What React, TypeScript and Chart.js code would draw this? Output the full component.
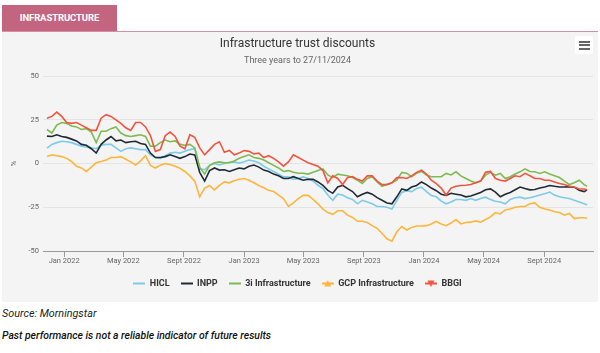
import React, { useEffect, useRef } from 'react';
import { Chart, registerables } from 'chart.js';

Chart.register(...registerables);

// Days since 27/11/2021
const days = [
  0, 10, 20, 30, 40, 50, 60, 70, 80, 90,
  100, 110, 120, 130, 140, 150, 160, 170, 180, 190,
  200, 210, 220, 230, 240, 250, 260, 270, 280, 290,
  300, 310, 320, 330, 340, 350, 360, 370, 380, 390,
  400, 410, 420, 430, 440, 450, 460, 470, 480, 490,
  500, 510, 520, 530, 540, 550, 560, 570, 580, 590,
  600, 610, 620, 630, 640, 650, 660, 670, 680, 690,
  700, 710, 720, 730, 740, 750, 760, 770, 780, 790,
  800, 810, 820, 830, 840, 850, 860, 870, 880, 890,
  900, 910, 920, 930, 940, 950, 960, 970, 980, 990,
  1000, 1010, 1020, 1030, 1040, 1050, 1060, 1070, 1080, 1090,
  1096,
];

const tickDays = [35, 155, 278, 400, 520, 643, 765, 886, 1009];
const tickLabels = ['Jan 2022', 'May 2022', 'Sept 2022', 'Jan 2023', 'May 2023', 'Sept 2023', 'Jan 2024', 'May 2024', 'Sept 2024'];
const yTicks = [-50, -25, 0, 25, 50];

const seriesNames = ['HICL', 'INPP', '3i Infrastructure', 'GCP Infrastructure', 'BBGI'];

const hicl = [
  8.9, 11, 12, 12.8, 12.5, 12, 11, 10, 9.5, 9,
  8.5, 10.5, 11, 11, 9, 7, 8.5, 9, 8.5, 8,
  8, 5, 3.5, 3, 4.5, 6, 6.5, 6, 7, 8,
  8.5, -3, -3.5, -1, 0, -0.8, 0, 0.8, 1, 0.3,
  1, 2, 1.5, 0.5, -1.5, -3, -4.5, -6, -7.6, -7.6,
  -9, -8.5, -7.6, -8.5, -10, -12.4, -14.3, -18, -21, -17.5,
  -18, -19.5, -20.5, -23, -21, -22, -23, -24.5, -24.5, -25,
  -26, -21, -16.5, -15.5, -16, -14.3, -13.5, -16, -18.2, -19,
  -21.5, -23, -22, -20.5, -20.5, -21, -20, -21, -20, -19.2,
  -20.5, -21.5, -22, -23, -20.5, -19.5, -19.2, -20, -19.5, -18.8,
  -18, -17.2, -16.3, -18, -19, -19.5, -20, -21, -22, -23,
  -23.6,
];

const inpp = [
  15.7, 15.5, 16.5, 15.5, 15, 14, 13, 11, 10.5, 8.5,
  6, 11, 13.5, 15.5, 13, 13.5, 12, 12.5, 12.8, 11.5,
  11, 6, 3.5, 3.5, 4, 5, 4, 3, 4, 5.5,
  5, -5, -10, -4, -2.5, -3.7, -3.5, -4.5, -3.5, -2.5,
  -3, -1.5, -0.8, -2, -3.7, -4.5, -6, -7, -8.5, -8.5,
  -7.5, -8.5, -9.5, -9, -9, -10.5, -12.5, -15.3, -17, -13.4,
  -12.4, -14.3, -16, -19, -17.5, -16.5, -17.5, -19.5, -21, -22.5,
  -23, -19, -14.5, -15.3, -13.4, -12.5, -10.5, -12, -14, -15.5,
  -17.5, -18.2, -17, -17.5, -18, -19, -18.5, -17.5, -16.5, -15,
  -14.5, -16.3, -19, -17.5, -16.5, -15, -13.4, -14.3, -15, -14.8,
  -14, -13.4, -12.5, -13, -13.4, -13.4, -13.2, -13.5, -15.3, -16,
  -15,
];

const threeI = [
  19.5, 17.5, 22, 23.5, 23, 21.5, 21, 19.5, 20, 18,
  12, 18.5, 18.5, 20, 21, 17.5, 16, 15.5, 16, 16.5,
  15.5, 10, 10, 12, 13.5, 12.5, 13, 11, 10.5, 11,
  9, -2, -6, -1, 0.5, 1, 0.5, 0.5, 1.5, 3,
  4, 5, 3.5, 3, 2, 0.5, -1, -2.5, -4.5, -4,
  -5, -5.5, -5.5, -6, -5, -4, -3, -6.5, -8, -6,
  -6.5, -7, -8, -9.5, -11.4, -8.5, -7.5, -10.5, -13, -12,
  -11, -9.5, -5, -5.5, -7.5, -5.5, -4.5, -6.5, -7.5, -7.5,
  -7.5, -5.6, -6.5, -4.7, -7, -8.5, -10, -11, -10, -6.6,
  -5, -6.6, -5.6, -8.5, -7.5, -6, -4.7, -3, -4.5, -4.7,
  -5.6, -4.7, -6, -7, -8, -10, -12, -11, -9.5, -12,
  -13,
];

const gcp = [
  4, 5, 4.5, 4, 3, 1.2, -1.5, -2.5, -4.5, -2,
  0.5, 1.2, 2, 3.5, 3.5, 4, 2.5, 1, -0.8, 1.5,
  4.5, -1, -2.5, -1, 0, -0.5, -1.5, -2.7, -4.5, -7,
  -10, -19, -14, -12.5, -15, -12.5, -10.5, -11, -9.8, -9,
  -8.5, -9.5, -11, -12.5, -13.8, -15.3, -16, -18, -20, -24.5,
  -22.5, -20, -18.2, -18.2, -20.5, -23, -26, -28, -29, -27,
  -27, -29.5, -30.8, -33, -33, -33.7, -35.5, -37, -40, -43,
  -44.4, -39, -36, -38, -36.5, -35.7, -35.7, -35.5, -34.5, -33,
  -34.5, -35.5, -34, -32, -34.5, -33.7, -33.5, -32.8, -33.5, -32,
  -30.5, -28, -28.8, -26.5, -26, -25, -24.5, -24.5, -23, -22.5,
  -25, -26, -26.5, -27.5, -28, -29.5, -28.5, -31.5, -31, -31,
  -31.3,
];

const bbgi = [
  26, 27, 29.5, 27, 23.5, 23, 23.5, 22, 20.5, 19,
  19, 26, 28, 27, 25, 23, 20.5, 19, 23.5, 23.5,
  21, 16, 7, 8, 16, 18, 15.5, 10, 8.5, 16.5,
  15, 9, 5, 8, 11, 12.5, 6.5, 7.5, 5, 6,
  7.5, 7, 5.5, 6, 3.5, 4.5, 3, 1, -1.5, 1,
  5, 3.5, 2, 0.5, -0.5, -1.5, -4, -11, -7, -8.5,
  -12, -8, -7.5, -9, -10, -7, -7, -10, -12, -12,
  -11, -8, -8, -8.5, -7, -5, -3.7, -6, -9.5, -11.5,
  -14, -18, -14, -13, -12.5, -12.4, -12, -11, -10, -5,
  -4.5, -8.5, -9.5, -10, -8.5, -7, -7.5, -5.6, -7, -8.5,
  -8.5, -9.5, -9.5, -10.5, -11.4, -12, -13, -13.4, -14.5, -14.5,
  -15,
];

const seriesValues = [hicl, inpp, threeI, gcp, bbgi];
const seriesColors = ['#7ccbe9', '#1e2b35', '#7dbb52', '#fdb53a', '#f1553f'];
const seriesMarkers = ['none', 'none', 'none', 'up', 'down'];

function makeLegendIcon(color: string, marker: string): HTMLCanvasElement {
  const c = document.createElement('canvas');
  c.width = 12;
  c.height = 10;
  const ctx = c.getContext('2d')!;
  ctx.strokeStyle = color;
  ctx.lineWidth = 2;
  ctx.beginPath();
  ctx.moveTo(0, 5);
  ctx.lineTo(12, 5);
  ctx.stroke();
  ctx.fillStyle = color;
  if (marker === 'up') {
    ctx.beginPath();
    ctx.moveTo(6, 1.5);
    ctx.lineTo(9.5, 8);
    ctx.lineTo(2.5, 8);
    ctx.closePath();
    ctx.fill();
  } else if (marker === 'down') {
    ctx.beginPath();
    ctx.moveTo(2.5, 2);
    ctx.lineTo(9.5, 2);
    ctx.lineTo(6, 8.5);
    ctx.closePath();
    ctx.fill();
  }
  return c;
}

export default function App() {
  const ref = useRef<HTMLCanvasElement>(null);

  useEffect(() => {
    document.body.style.margin = '0';
    const canvas = ref.current!;
    const icons = seriesColors.map((c, i) => makeLegendIcon(c, seriesMarkers[i]));
    const chart = new Chart(canvas, {
      type: 'line',
      data: {
        datasets: seriesNames.map((name, i) => ({
          label: name,
          data: days.map((d, j) => ({ x: d, y: seriesValues[i][j] })),
          borderColor: seriesColors[i],
          backgroundColor: seriesColors[i],
          borderWidth: 1.6,
          pointRadius: 0,
          pointHoverRadius: 0,
          pointStyle: icons[i] as any,
          tension: 0,
          order: 5 - i,
        })),
      },
      options: {
        responsive: false,
        animation: false,
        devicePixelRatio: 1,
        layout: { padding: { left: 0, right: 5, top: 0, bottom: 4 } },
        font: { family: 'Roboto' },
        scales: {
          x: {
            type: 'linear',
            min: -8,
            max: 1108,
            afterBuildTicks: (s: any) => {
              s.ticks = tickDays.map((v) => ({ value: v }));
            },
            afterFit: (s: any) => {
              s.height = 17;
            },
            ticks: {
              autoSkip: false,
              maxRotation: 0,
              padding: 0,
              color: '#666666',
              font: { family: 'Roboto', size: 7.5 },
              callback: (v: any) => {
                const idx = tickDays.indexOf(Number(v));
                return idx >= 0 ? tickLabels[idx] : '';
              },
            },
            grid: { drawOnChartArea: false, drawTicks: true, tickLength: 6, color: '#999999' },
            border: { color: '#999999', width: 1 },
          },
          y: {
            min: -50,
            max: 50,
            afterBuildTicks: (s: any) => {
              s.ticks = yTicks.map((v) => ({ value: v }));
            },
            afterFit: (s: any) => {
              s.width = 41;
            },
            ticks: {
              padding: 4,
              color: '#666666',
              font: { family: 'Roboto', size: 7.5 },
            },
            grid: { color: '#e4e4e4', drawTicks: false, lineWidth: 1 },
            border: { display: false },
            title: {
              display: true,
              text: '%',
              color: '#666666',
              font: { family: 'Roboto', size: 8 },
              padding: { top: 7, bottom: 0 },
            },
          },
        },
        plugins: {
          title: {
            display: true,
            text: 'Infrastructure trust discounts',
            color: '#333333',
            font: { family: 'Roboto', size: 12, weight: 'normal' },
            padding: { top: 5, bottom: 4 },
          },
          subtitle: {
            display: true,
            text: 'Three years to 27/11/2024',
            color: '#666666',
            font: { family: 'Roboto', size: 9, weight: 'normal' },
            padding: { top: 0, bottom: 10 },
          },
          legend: {
            position: 'bottom',
            labels: {
              usePointStyle: true,
              pointStyleWidth: 12,
              padding: 11,
              color: '#333333',
              font: { family: 'Roboto', size: 9, weight: 'bold' },
              sort: (a: any, b: any) => a.datasetIndex - b.datasetIndex,
            },
          },
          tooltip: { enabled: false },
        },
      } as any,
    });
    return () => chart.destroy();
  }, []);

  return (
    <div style={{ position: 'relative', width: 600, height: 353, background: '#ffffff', fontFamily: 'Roboto, sans-serif', overflow: 'hidden' }}>
      <div
        style={{
          position: 'absolute', left: 2, top: 5, width: 115, height: 26,
          background: '#c4657f', color: '#ffffff', fontWeight: 700, fontSize: 9.5,
          lineHeight: '26px', textAlign: 'center', letterSpacing: -0.1,
        }}
      >
        INFRASTRUCTURE
      </div>
      <div style={{ position: 'absolute', left: 2, top: 30.5, width: 596, height: 1.5, background: '#d48fa4' }} />
      <div style={{ position: 'absolute', left: 2, top: 32, width: 596, height: 270, background: '#f4f4f4' }}>
        <canvas ref={ref} width={596} height={270} style={{ display: 'block', width: 596, height: 270 }} />
        <div
          style={{
            position: 'absolute', left: 573, top: 4, width: 18, height: 18,
            background: '#ffffff', borderRadius: 2,
          }}
        >
          <div style={{ position: 'absolute', left: 4, top: 4.5, width: 11, height: 2, background: '#666666' }} />
          <div style={{ position: 'absolute', left: 4, top: 8, width: 11, height: 2, background: '#666666' }} />
          <div style={{ position: 'absolute', left: 4, top: 11.5, width: 11, height: 2, background: '#666666' }} />
        </div>
      </div>
      <div style={{ position: 'absolute', left: 2, top: 307, fontSize: 10.8, fontStyle: 'italic', color: '#222222', lineHeight: '13px' }}>
        Source: Morningstar
      </div>
      <div style={{ position: 'absolute', left: 2, top: 329, fontSize: 10.4, fontStyle: 'italic', fontWeight: 500, color: '#111111', lineHeight: '13px' }}>
        Past performance is not a reliable indicator of future results
      </div>
    </div>
  );
}
